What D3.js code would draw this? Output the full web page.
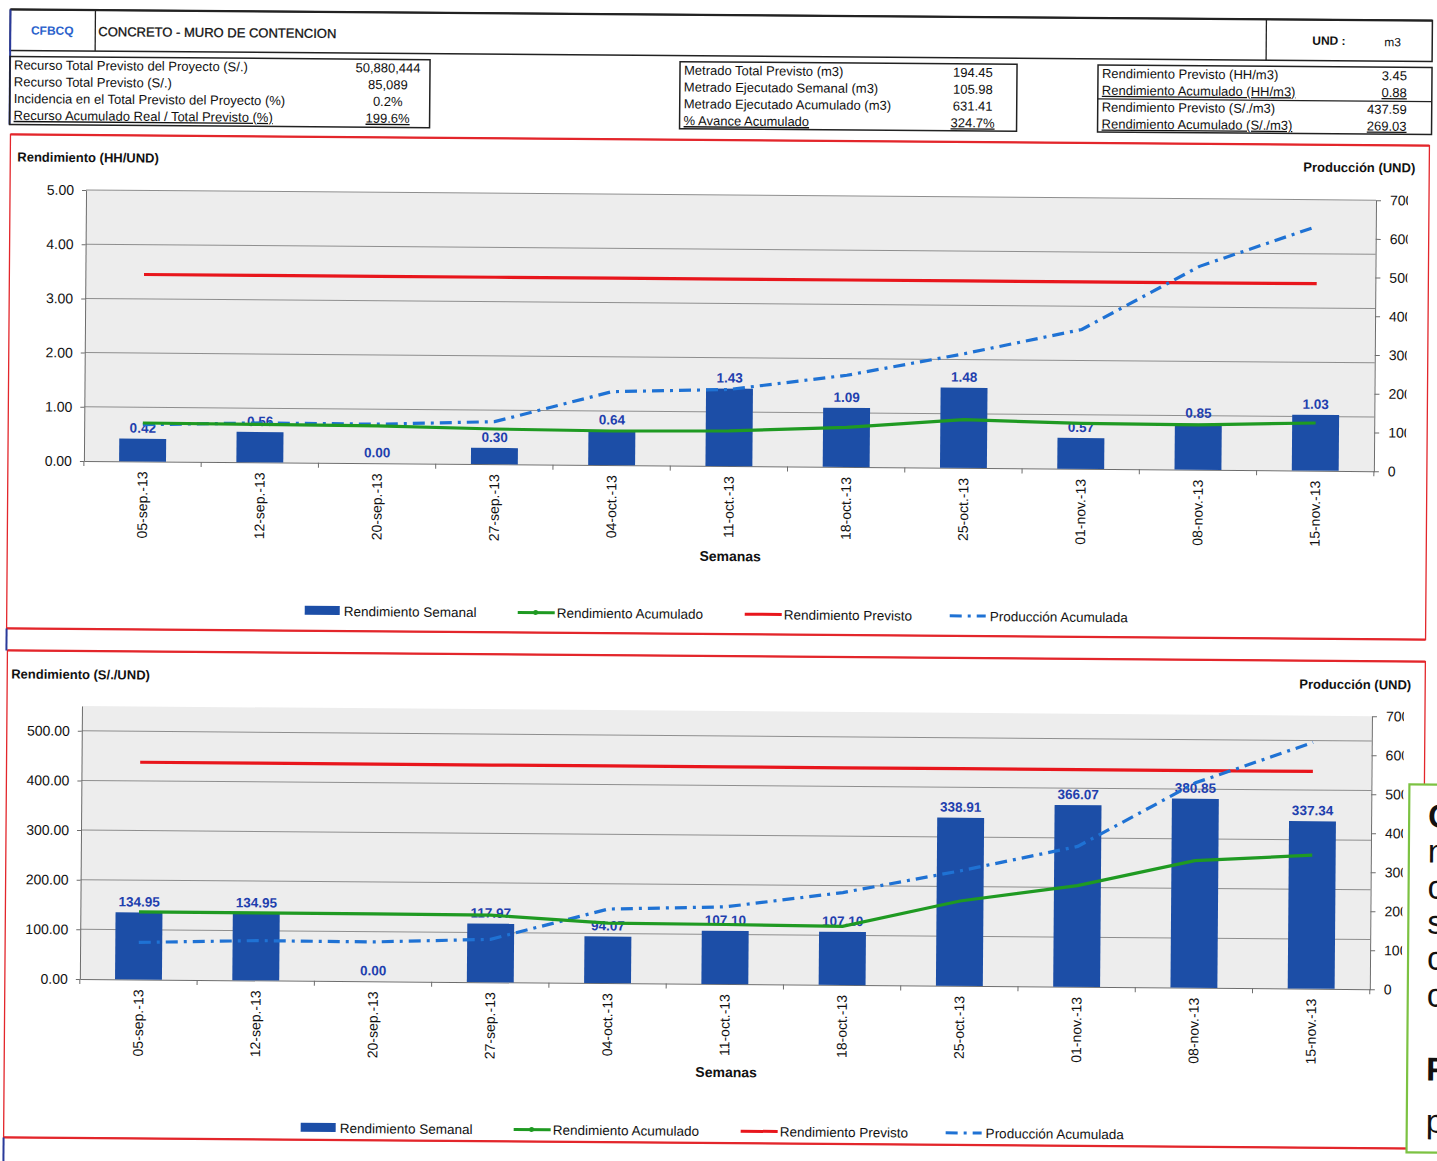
<!DOCTYPE html>
<html>
<head>
<meta charset="utf-8">
<script src="https://cdn.jsdelivr.net/npm/d3@7"></script>
<style>
  html, body { margin: 0; padding: 0; background: #fff; }
  svg { display: block; font-family: "Liberation Sans", Arial, sans-serif; }
</style>
</head>
<body>
<svg id="sheet" width="1437" height="1161"></svg>
<script>
// ---- Weekly categories ----
const semanas = ["05-sep.-13", "12-sep.-13", "20-sep.-13", "27-sep.-13", "04-oct.-13",
                 "11-oct.-13", "18-oct.-13", "25-oct.-13", "01-nov.-13", "08-nov.-13", "15-nov.-13"];

// ---- Rendimiento HH/UND ----
const hhSemanal   = [0.42, 0.56, 0.00, 0.30, 0.64, 1.43, 1.09, 1.48, 0.57, 0.85, 1.03];
const hhAcumulado = [0.71, 0.70, 0.69, 0.65, 0.63, 0.65, 0.73, 0.89, 0.84, 0.83, 0.88];
const hhPrevisto  = [3.45, 3.45, 3.45, 3.45, 3.45, 3.45, 3.45, 3.45, 3.45, 3.45, 3.45];

// ---- Rendimiento S/./UND ----
const solSemanal   = [134.95, 134.95, 0.00, 117.97, 94.07, 107.10, 107.10, 338.91, 366.07, 380.85, 337.34];
const solAcumulado = [136, 136, 136, 135, 121, 120, 118, 171, 204, 256, 269.03];
const solPrevisto  = [437.59, 437.59, 437.59, 437.59, 437.59, 437.59, 437.59, 437.59, 437.59, 437.59, 437.59];

// ---- Producción acumulada (m3), right axis of both charts ----
const produccionAcumulada = [95, 102, 101, 110, 190, 198, 237, 295, 360, 525.43, 631.41];

// ---- Axis ticks ----
const hhTicks = [0, 1, 2, 3, 4, 5];
const solTicks = [0, 100, 200, 300, 400, 500];
const produccionTicks = [0, 100, 200, 300, 400, 500, 600, 700];

// ---- Header tables ----
const recursoLabels = ["Recurso Total Previsto del Proyecto (S/.)", "Recurso Total Previsto (S/.)",
                       "Incidencia en el Total Previsto del Proyecto  (%)", "Recurso Acumulado Real / Total Previsto (%)"];
const recursoValues = ["50,880,444", "85,089", "0.2%", "199.6%"];
const metradoLabels = ["Metrado Total Previsto (m3)", "Metrado Ejecutado Semanal (m3)",
                       "Metrado Ejecutado Acumulado (m3)", "% Avance Acumulado"];
const metradoValues = ["194.45", "105.98", "631.41", "324.7%"];
const rendLabels = ["Rendimiento Previsto (HH/m3)", "Rendimiento Acumulado (HH/m3)",
                    "Rendimiento Previsto (S/./m3)", "Rendimiento Acumulado (S/./m3)"];
const rendValues = ["3.45", "0.88", "437.59", "269.03"];

const legendNames = ["Rendimiento Semanal", "Rendimiento Acumulado", "Rendimiento Previsto", "Producción Acumulada"];
const sideNote = ["C", "n", "c", "s", "c", "c", "F", "p"];

// ---- Colours ----
const BAR = "#1c4ea7", LABEL = "#1f3fae", GREEN = "#1f9a22", RED = "#e8161c", DASH = "#1f72d4";
const FRAME = "#e3262b";

const W = 1437, H = 1161;
const svg = d3.select("#sheet");
svg.append("rect").attr("width", W).attr("height", H).attr("fill", "#fff");
// the scanned sheet sits slightly skewed
const page = svg.append("g").attr("transform", "rotate(0.45,718,580)");

// ================= Header =================
const hdr = page.append("g").attr("font-size", 13).attr("fill", "#111");
hdr.append("rect").attr("x", 6).attr("y", 15).attr("width", 1422).attr("height", 41)
  .attr("fill", "none").attr("stroke", "#222").attr("stroke-width", 1.5);
hdr.append("line").attr("x1", 6).attr("x2", 1428).attr("y1", 15).attr("y2", 15)
  .attr("stroke", "#222").attr("stroke-width", 2.2);
hdr.append("line").attr("x1", 91).attr("x2", 91).attr("y1", 15).attr("y2", 56).attr("stroke", "#222").attr("stroke-width", 1.3);
hdr.append("line").attr("x1", 1262).attr("x2", 1262).attr("y1", 15).attr("y2", 56).attr("stroke", "#222").attr("stroke-width", 1.3);
hdr.append("line").attr("x1", 6).attr("x2", 6).attr("y1", 15).attr("y2", 130).attr("stroke", "#2a3a9a").attr("stroke-width", 2);
hdr.append("text").attr("x", 48).attr("y", 40).attr("text-anchor", "middle")
  .attr("font-weight", "bold").attr("font-size", 12).attr("fill", "#2a62cc").text("CFBCQ");
hdr.append("text").attr("x", 94).attr("y", 41).attr("font-size", 13).attr("stroke", "#111").attr("stroke-width", 0.3)
  .text("CONCRETO - MURO DE CONTENCION");
hdr.append("text").attr("x", 1308).attr("y", 40).attr("font-weight", "bold").attr("font-size", 12).text("UND :");
hdr.append("text").attr("x", 1380).attr("y", 41).attr("font-size", 12).text("m3");

function infoBox(x, y, w, h, labels, values, valX, anchor, underlined, divider) {
  const g = hdr.append("g");
  g.append("rect").attr("x", x).attr("y", y).attr("width", w).attr("height", h)
    .attr("fill", "none").attr("stroke", "#222").attr("stroke-width", 1.5);
  if (divider) g.append("line").attr("x1", x).attr("x2", x + w).attr("y1", y + 34).attr("y2", y + 34)
    .attr("stroke", "#222").attr("stroke-width", 1.2);
  labels.forEach((t, i) => {
    const ty = y + 13 + i * 16.8;
    g.append("text").attr("x", x + 4).attr("y", ty).attr("font-size", 13)
      .attr("text-decoration", underlined.includes(i) ? "underline" : null).text(t);
    g.append("text").attr("x", valX).attr("y", ty).attr("font-size", 13).attr("text-anchor", anchor)
      .attr("text-decoration", underlined.includes(i) ? "underline" : null).text(values[i]);
  });
}
infoBox(6, 62, 420, 68, recursoLabels, recursoValues, 384, "middle", [3], false);
infoBox(676, 62, 337, 67, metradoLabels, metradoValues, 969, "middle", [3], false);
infoBox(1094, 62, 334, 67, rendLabels, rendValues, 1403, "end", [1, 3], true);

// ================= Charts =================
function drawChart(o) {
  const g = page.append("g");

  // frame
  g.append("rect").attr("x", o.fx0).attr("y", o.fy0).attr("width", o.fx1 - o.fx0).attr("height", o.fy1 - o.fy0)
    .attr("fill", "none").attr("stroke", FRAME).attr("stroke-width", 1.3);
  [o.fy0, o.fy1].forEach(yy => g.append("line").attr("x1", o.fx0).attr("x2", o.fx1).attr("y1", yy).attr("y2", yy)
    .attr("stroke", FRAME).attr("stroke-width", 2.2));

  const x = d3.scaleBand().domain(semanas).range([o.x0, o.x1]).paddingInner(0.6).paddingOuter(0.3);
  const yL = d3.scaleLinear().domain([0, o.leftMax]).range([o.y1, o.y0]);
  const yR = d3.scaleLinear().domain([0, 700]).range([o.y1, o.y0]);
  const cx = d => x(d) + x.bandwidth() / 2;

  // plot area
  g.append("rect").attr("x", o.x0).attr("y", o.y0).attr("width", o.x1 - o.x0).attr("height", o.y1 - o.y0)
    .attr("fill", "#ededed");
  g.append("g").selectAll("line").data(o.ticks.filter(t => t > 0)).join("line")
    .attr("x1", o.x0).attr("x2", o.x1).attr("y1", d => yL(d)).attr("y2", d => yL(d))
    .attr("stroke", "#8e8e8e").attr("stroke-width", 1);

  // left axis
  const ax = g.append("g").attr("transform", `translate(${o.x0},0)`)
    .call(d3.axisLeft(yL).tickValues(o.ticks).tickFormat(d3.format(".2f")).tickSize(4).tickSizeOuter(0).tickPadding(8));
  ax.select(".domain").attr("stroke", "#6d6d6d");
  ax.selectAll(".tick line").attr("stroke", "#6d6d6d");
  ax.selectAll("text").attr("font-size", 14).attr("fill", "#111").attr("font-family", "Liberation Sans, Arial");

  // right axis (labels cut at the frame edge)
  const clipId = "rclip" + o.id;
  g.append("clipPath").attr("id", clipId).append("rect")
    .attr("x", -5).attr("y", o.y0 - 20).attr("width", 1405 - o.x1 + 5).attr("height", o.y1 - o.y0 + 40);
  const ar = g.append("g").attr("transform", `translate(${o.x1},0)`).attr("clip-path", `url(#${clipId})`)
    .call(d3.axisRight(yR).tickValues(produccionTicks).tickSize(5).tickSizeOuter(0).tickPadding(9));
  ar.select(".domain").attr("stroke", "#6d6d6d");
  ar.selectAll(".tick line").attr("stroke", "#6d6d6d");
  ar.selectAll("text").attr("font-size", 14).attr("fill", "#111").attr("font-family", "Liberation Sans, Arial");

  // category axis
  const ab = g.append("g").attr("transform", `translate(0,${o.y1})`)
    .call(d3.axisBottom(x).tickSize(0).tickSizeOuter(0));
  ab.select(".domain").attr("stroke", "#6d6d6d");
  ab.selectAll("text").attr("font-size", 14).attr("fill", "#111").attr("font-family", "Liberation Sans, Arial")
    .attr("transform", "rotate(-90)").attr("text-anchor", "end").attr("x", -10).attr("y", 0).attr("dy", "0.35em");
  g.append("g").selectAll("line").data(d3.range(semanas.length + 1)).join("line")
    .attr("x1", i => o.x0 + i * x.step()).attr("x2", i => o.x0 + i * x.step())
    .attr("y1", o.y1).attr("y2", o.y1 + 5).attr("stroke", "#6d6d6d");

  // weekly bars
  g.append("g").selectAll("rect").data(o.weekly).join("rect")
    .attr("x", (d, i) => x(semanas[i])).attr("width", x.bandwidth())
    .attr("y", d => yL(d)).attr("height", d => o.y1 - yL(d)).attr("fill", BAR);

  // bar value labels
  g.append("g").selectAll("text").data(o.weekly).join("text")
    .attr("x", (d, i) => cx(semanas[i])).attr("y", d => yL(d) - 6)
    .attr("text-anchor", "middle").attr("font-weight", "bold").attr("font-size", 13.5).attr("fill", LABEL)
    .text(d => d3.format(".2f")(d));

  // lines
  const lineL = d3.line().x((d, i) => cx(semanas[i])).y(d => yL(d));
  const lineR = d3.line().x((d, i) => cx(semanas[i])).y(d => yR(d));
  g.append("path").datum(o.previsto).attr("d", lineL).attr("fill", "none").attr("stroke", RED).attr("stroke-width", 3.2);
  g.append("path").datum(produccionAcumulada).attr("d", lineR).attr("fill", "none").attr("stroke", DASH)
    .attr("stroke-width", 3.2).attr("stroke-dasharray", "12,6,3,6");
  g.append("path").datum(o.acum).attr("d", lineL).attr("fill", "none").attr("stroke", GREEN).attr("stroke-width", 3.2);

  // titles
  g.append("text").attr("x", o.titleX).attr("y", o.titleY).attr("font-weight", "bold").attr("font-size", 13)
    .attr("fill", "#111").text(o.title);
  g.append("text").attr("x", 1412).attr("y", o.titleY).attr("text-anchor", "end").attr("font-weight", "bold")
    .attr("font-size", 13).attr("fill", "#111").text("Producción (UND)");
  g.append("text").attr("x", 730).attr("y", o.semanasY).attr("text-anchor", "middle").attr("font-weight", "bold")
    .attr("font-size", 14).attr("fill", "#111").text("Semanas");

  // legend
  const ly = o.legendY;
  const lg = g.append("g").attr("font-size", 13.5).attr("fill", "#111");
  const sw = [305, 518, 745, 950];
  lg.append("rect").attr("x", sw[0]).attr("y", ly - 5).attr("width", 35).attr("height", 9).attr("fill", BAR);
  lg.append("line").attr("x1", sw[1]).attr("x2", sw[1] + 37).attr("y1", ly).attr("y2", ly).attr("stroke", GREEN).attr("stroke-width", 3);
  lg.append("circle").attr("cx", sw[1] + 18).attr("cy", ly).attr("r", 2.5).attr("fill", GREEN);
  lg.append("line").attr("x1", sw[2]).attr("x2", sw[2] + 37).attr("y1", ly).attr("y2", ly).attr("stroke", RED).attr("stroke-width", 3);
  lg.append("line").attr("x1", sw[3]).attr("x2", sw[3] + 36).attr("y1", ly).attr("y2", ly).attr("stroke", DASH)
    .attr("stroke-width", 3).attr("stroke-dasharray", "12,6,3,6");
  lg.selectAll("text").data(legendNames).join("text")
    .attr("x", (d, i) => sw[i] + (i === 3 ? 40 : 39)).attr("y", ly + 5).text(d => d);
}

drawChart({
  id: 1, fx0: 7, fx1: 1426, fy0: 140, fy1: 634,
  x0: 83, x1: 1373, y0: 195, y1: 466, leftMax: 5, ticks: hhTicks,
  weekly: hhSemanal, acum: hhAcumulado, previsto: hhPrevisto,
  title: "Rendimiento (HH/UND)", titleX: 14, titleY: 167, semanasY: 561, legendY: 614
});
drawChart({
  id: 2, fx0: 8, fx1: 1426, fy0: 656, fy1: 1143,
  x0: 83, x1: 1373, y0: 711, y1: 984, leftMax: 550, ticks: solTicks,
  weekly: solSemanal, acum: solAcumulado, previsto: solPrevisto,
  title: "Rendimiento (S/./UND)", titleX: 12, titleY: 684, semanasY: 1077, legendY: 1131
});

// blue margin marks between the frames
page.append("line").attr("x1", 7).attr("x2", 7).attr("y1", 634).attr("y2", 656).attr("stroke", "#2a3a9a").attr("stroke-width", 2);
page.append("line").attr("x1", 8).attr("x2", 8).attr("y1", 1143).attr("y2", 1170).attr("stroke", "#2a3a9a").attr("stroke-width", 2);

// side note box, cut by the sheet edge
const note = page.append("g");
note.append("rect").attr("x", 1411).attr("y", 779).attr("width", 60).attr("height", 368)
  .attr("fill", "#fff").attr("stroke", "#7cc242").attr("stroke-width", 2.2);
const noteY = [822, 857, 893, 928, 964, 1001, 1075, 1127];
note.selectAll("text").data(sideNote).join("text")
  .attr("x", 1430).attr("y", (d, i) => noteY[i]).attr("font-size", 33)
  .attr("font-weight", d => (d === "C" || d === "F") ? "bold" : "normal").attr("fill", "#111")
  .text(d => d);
</script>
</body>
</html>
